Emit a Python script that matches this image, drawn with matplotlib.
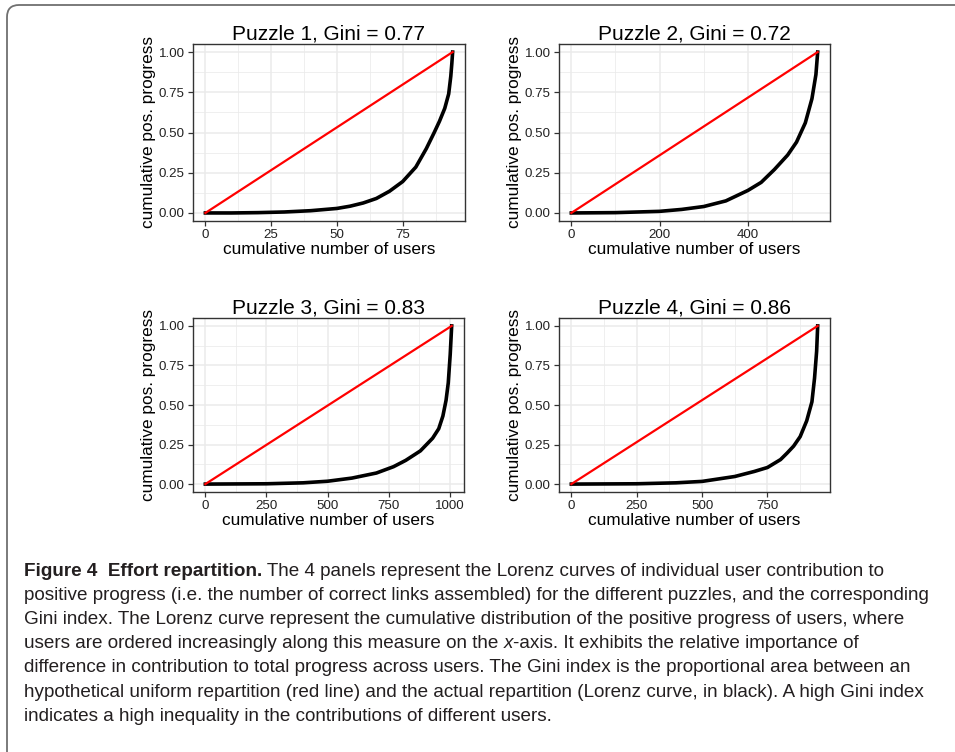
import numpy as np
import matplotlib
matplotlib.use('Agg')
import matplotlib.pyplot as plt
from matplotlib.patches import FancyBboxPatch
from matplotlib.transforms import IdentityTransform

# =============================================================================
# Data
# =============================================================================
titles = ["Puzzle 1, Gini = 0.77", "Puzzle 2, Gini = 0.72",
          "Puzzle 3, Gini = 0.83", "Puzzle 4, Gini = 0.86"]
n_users = [94, 558, 1008, 942]

x1 = [0, 10, 20, 30, 40, 50, 55, 60, 65, 70, 75, 80, 84, 87, 89, 91, 92.5, 93.3, 93.7, 94]
y1 = [0, 0.0, 0.002, 0.006, 0.014, 0.028, 0.042, 0.062, 0.09, 0.135, 0.195, 0.285,
      0.40, 0.50, 0.57, 0.65, 0.74, 0.85, 0.93, 1.0]

x2 = [0, 100, 200, 250, 300, 350, 400, 430, 460, 490, 510, 530, 545, 554, 558]
y2 = [0, 0.002, 0.01, 0.022, 0.04, 0.075, 0.14, 0.19, 0.27, 0.36, 0.44, 0.56,
      0.71, 0.86, 1.0]

x3 = [0, 250, 400, 500, 600, 700, 770, 820, 880, 930, 955, 972, 985, 994, 1002, 1008]
y3 = [0, 0.002, 0.008, 0.018, 0.038, 0.07, 0.11, 0.15, 0.21, 0.29, 0.35, 0.43,
      0.53, 0.64, 0.82, 1.0]

x4 = [0, 250, 400, 500, 625, 700, 750, 800, 825, 850, 875, 900, 920, 930, 938, 942]
y4 = [0, 0.002, 0.008, 0.017, 0.048, 0.08, 0.105, 0.155, 0.196, 0.24, 0.30, 0.40,
      0.52, 0.67, 0.84, 1.0]

curves = [(x1, y1), (x2, y2), (x3, y3), (x4, y4)]
x_major = [[0, 25, 50, 75], [0, 200, 400], [0, 250, 500, 750, 1000], [0, 250, 500, 750]]
y_major = [0.0, 0.25, 0.5, 0.75, 1.0]

# caption: one list of (text, style) runs per line
caption_runs = [
    [("Figure 4  Effort repartition.", 'bold'),
     (" The 4 panels represent the Lorenz curves of individual user contribution to", 'normal')],
    [("positive progress (i.e. the number of correct links assembled) for the different puzzles, and the corresponding", 'normal')],
    [("Gini index. The Lorenz curve represent the cumulative distribution of the positive progress of users, where", 'normal')],
    [("users are ordered increasingly along this measure on the ", 'normal'), ("x", 'italic'),
     ("-axis. It exhibits the relative importance of", 'normal')],
    [("difference in contribution to total progress across users. The Gini index is the proportional area between an", 'normal')],
    [("hypothetical uniform repartition (red line) and the actual repartition (Lorenz curve, in black). A high Gini index", 'normal')],
    [("indicates a high inequality in the contributions of different users.", 'normal')],
]

# =============================================================================
# Layout
# =============================================================================
W, H = 955, 752
fig = plt.figure(figsize=(W / 100, H / 100), dpi=100)
plt.rcParams['font.family'] = ['Liberation Sans', 'DejaVu Sans']

# axes boxes in pixels: left, top, right, bottom
boxes = [(193, 44, 465, 221), (559, 44, 830, 221),
         (193, 318, 464, 492), (559, 318, 830, 492)]

for i, (l, t, r, b) in enumerate(boxes):
    ax = fig.add_axes([l / W, 1 - b / H, (r - l) / W, (b - t) / H])
    n = n_users[i]
    xs, ys = curves[i]
    xmaj = np.array(x_major[i])
    step = xmaj[1] - xmaj[0]
    ax.set_xlim(-0.05 * n, 1.05 * n)
    ax.set_ylim(-0.05, 1.05)
    ax.set_xticks(xmaj)
    ax.set_yticks(y_major)
    ax.set_yticklabels([f"{v:.2f}" for v in y_major])
    ax.set_xticks(np.arange(step / 2, 1.05 * n, step), minor=True)
    ax.set_yticks(np.arange(0.125, 1.05, 0.25), minor=True)
    ax.grid(which='major', color='#ebebeb', lw=1.1)
    ax.grid(which='minor', color='#ebebeb', lw=0.55)
    ax.set_axisbelow(True)
    ax.tick_params(which='minor', length=0)
    ax.tick_params(which='major', length=3.6, width=0.9, color='#333333',
                   labelsize=9.6, labelcolor='#222222', pad=2.5)
    for sp in ax.spines.values():
        sp.set_color('#333333')
        sp.set_linewidth(1.0)

    ax.plot(xs, ys, color='black', lw=2.6, solid_joinstyle='round')
    ax.plot([0, n], [0, 1], color='#ff0000', lw=1.6)

    ax.set_title(titles[i], fontsize=15, pad=3)
    ax.set_xlabel("cumulative number of users", fontsize=12.4, labelpad=0.5)
    ax.set_ylabel("cumulative pos. progress", fontsize=12.4, labelpad=2)

# rounded frame round the figure + caption
frame = FancyBboxPatch((7, -30), 1100, H - 5 + 30,
                       boxstyle="round,pad=0,rounding_size=12",
                       transform=IdentityTransform(), fill=False,
                       ec='#707070', lw=1.3)
fig.patches.append(frame)

cap_font = ['Liberation Sans', 'DejaVu Sans']
cap_color = '#231f20'
x_left = 24
baselines = [576, 600, 624, 648, 672, 697, 721]

renderer = fig.canvas.get_renderer()

# fit the font size so the longest line spans the same width as in the reference
probe = fig.text(0, 0, caption_runs[1][0][0], fontsize=14, family=cap_font)
probe_w = probe.get_window_extent(renderer).width
probe.remove()
cap_size = 14 * 918 / probe_w


def put_run(x_px, y_px, text, style):
    kw = dict(fontsize=cap_size, family=cap_font, color=cap_color, va='baseline')
    if style == 'bold':
        kw['fontweight'] = 'bold'
    elif style == 'italic':
        kw['fontstyle'] = 'italic'
    t = fig.text(x_px / W, 1 - y_px / H, text, **kw)
    return t.get_window_extent(renderer).x1


for runs, yb in zip(caption_runs, baselines):
    x = x_left
    for text, style in runs:
        x = put_run(x, yb, text, style)

fig.savefig('out.png', dpi=100)
